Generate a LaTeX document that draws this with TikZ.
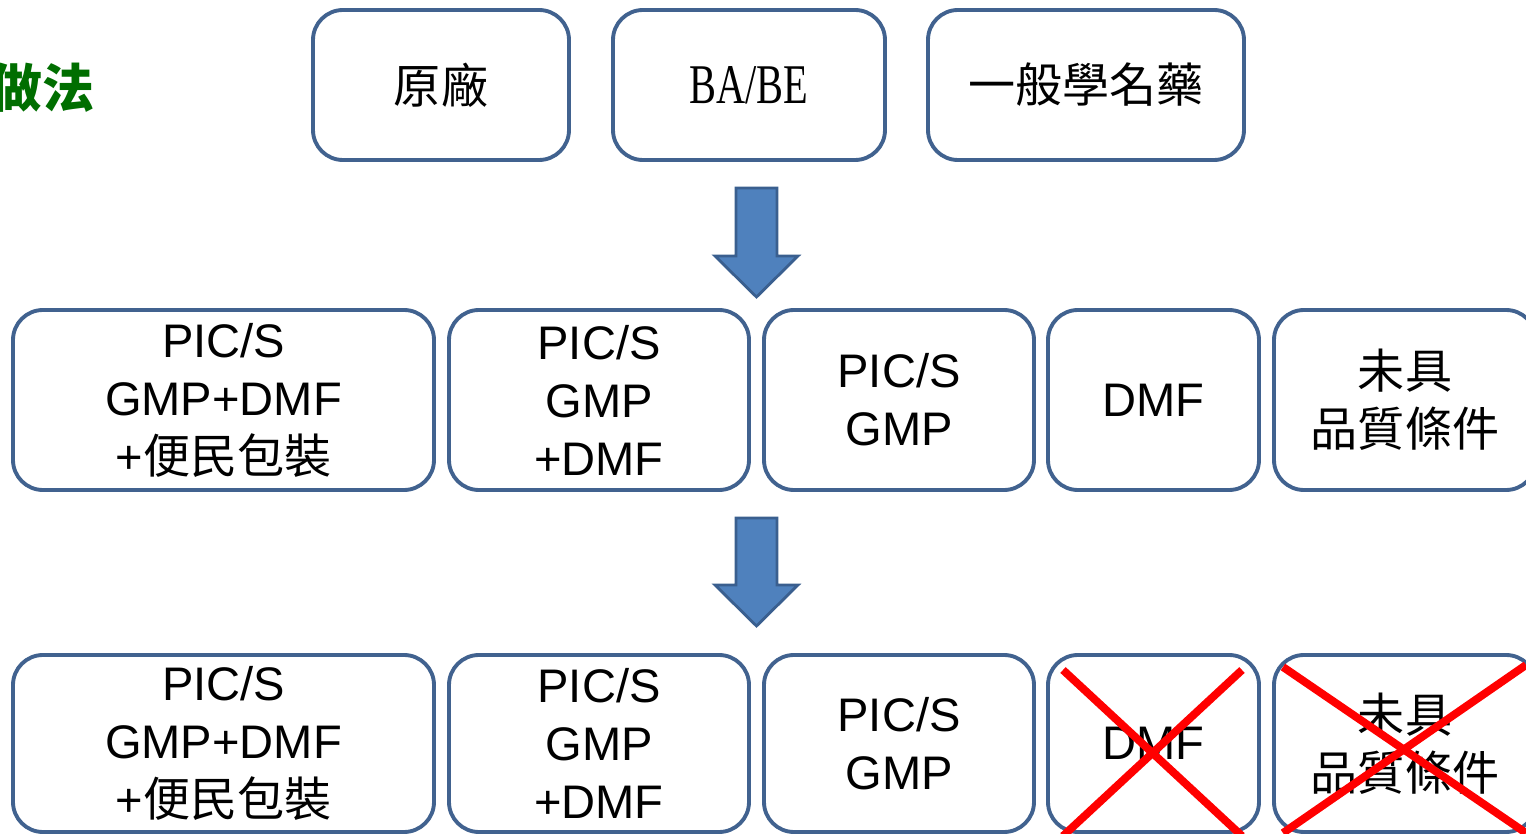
\documentclass[tikz,border=0pt]{standalone}
\usepackage{fontspec}
\setmainfont{Liberation Sans}
\newfontfamily\cjk{Noto Sans CJK TC}
\newfontfamily\bserif{Liberation Serif}
\usepackage{graphicx}
\definecolor{boxline}{RGB}{65,98,143}
\definecolor{arrfill}{RGB}{79,129,189}
\definecolor{arrline}{RGB}{58,95,143}
\definecolor{title}{RGB}{0,110,0}
\begin{document}
\begin{tikzpicture}[x=0.02cm,y=-0.02cm,
  box/.style={draw=boxline, line width=2.2pt, rounded corners=0.6cm, fill=white,
    inner sep=0pt, align=center, font=\fontsize{26.8}{33}\selectfont},
  bigarrow/.style={draw=arrline, fill=arrfill, line width=1.6pt, line join=miter},
  cross/.style={draw=red, line width=4.5pt}]
\useasboundingbox (0,0) rectangle (1526,834);
\clip (0,0) rectangle (1526,834);
% title fragment
\node[anchor=east, text=title, font=\cjk\bfseries\fontsize{29.6}{30}\selectfont, inner sep=0pt] (title) at (95,88) {做法};
% top row
\node[box, minimum width=256*0.02cm, minimum height=150*0.02cm] (t1) at (441,85) {\cjk 原廠};
\node[box, minimum width=272*0.02cm, minimum height=150*0.02cm] (t2) at (749,85) {\bserif\fontsize{31.9}{33}\selectfont\scalebox{0.72}[1]{BA/BE}};
\node[box, minimum width=316*0.02cm, minimum height=150*0.02cm] (t3) at (1086,85) {\cjk 一般學名藥};
% arrow 1
\draw[bigarrow] (736,188) -- (777,188) -- (777,256) -- (798,256) -- (756.5,297) -- (715,256) -- (736,256) -- cycle;
% middle row
\node[box, minimum width=421*0.02cm, minimum height=180*0.02cm] (m1) at (223.5,400) {PIC/S\\GMP+DMF\\+{\cjk 便民包裝}};
\node[box, minimum width=300*0.02cm, minimum height=180*0.02cm] (m2) at (599,400) {PIC/S\\GMP\\+DMF};
\node[box, minimum width=270*0.02cm, minimum height=180*0.02cm] (m3) at (899,400) {PIC/S\\GMP};
\node[box, minimum width=211*0.02cm, minimum height=180*0.02cm] (m4) at (1153.5,400) {DMF};
\node[box, minimum width=262*0.02cm, minimum height=180*0.02cm] (m5) at (1405,400) {\cjk 未具\\\cjk 品質條件};
% arrow 2
\draw[bigarrow] (736,518) -- (777,518) -- (777,585) -- (798,585) -- (756.5,626) -- (715,585) -- (736,585) -- cycle;
% bottom row
\node[box, minimum width=421*0.02cm, minimum height=177*0.02cm] (b1) at (223.5,743.5) {PIC/S\\GMP+DMF\\+{\cjk 便民包裝}};
\node[box, minimum width=300*0.02cm, minimum height=177*0.02cm] (b2) at (599,743.5) {PIC/S\\GMP\\+DMF};
\node[box, minimum width=270*0.02cm, minimum height=177*0.02cm] (b3) at (899,743.5) {PIC/S\\GMP};
\node[box, minimum width=211*0.02cm, minimum height=177*0.02cm] (b4) at (1153.5,743.5) {DMF};
\node[box, minimum width=262*0.02cm, minimum height=177*0.02cm] (b5) at (1405,743.5) {\cjk 未具\\\cjk 品質條件};
% crosses
\draw[cross] (1063,670) -- (1242,836);
\draw[cross] (1242,670) -- (1063,836);
\draw[cross] (1283,667) -- (1526,833);
\draw[cross] (1526,665) -- (1283,833);
\end{tikzpicture}
\end{document}
